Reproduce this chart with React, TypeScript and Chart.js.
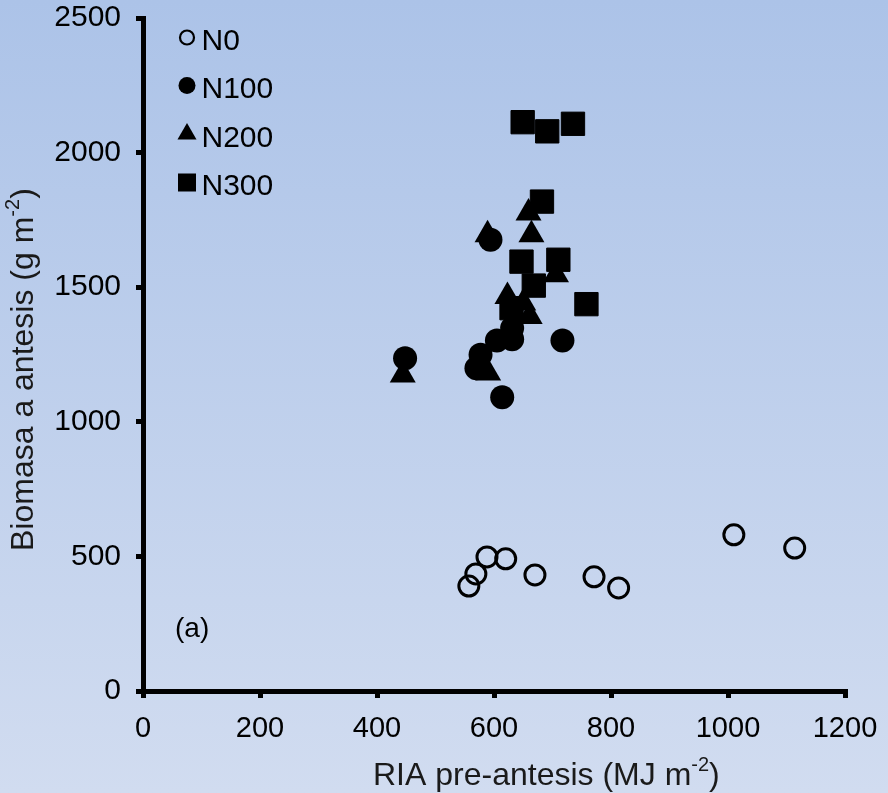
import React, { useEffect, useRef } from "react";
import { Chart, registerables } from "chart.js";

Chart.register(...registerables);

// ---- Data ----
const seriesNames = ["N0", "N100", "N200", "N300"];

const n0X = [557, 569, 588, 620, 670, 771, 813, 1010, 1114];
const n0Y = [390, 435, 498, 491, 431, 424, 383, 580, 531];

const n100X = [594, 448, 717, 614, 605, 631, 631, 577, 570];
const n100Y = [1676, 1236, 1302, 1091, 1302, 1307, 1348, 1249, 1199];

const n200X = [589, 659, 664, 706, 623, 650, 661, 444, 590];
const n200Y = [1695, 1776, 1695, 1546, 1465, 1441, 1391, 1174, 1181];

const n300X = [649, 691, 735, 682, 647, 710, 668, 758, 630];
const n300Y = [2113, 2079, 2107, 1818, 1595, 1602, 1506, 1437, 1422];

const xTickValues = [0, 200, 400, 600, 800, 1000, 1200];
const yTickValues = [0, 500, 1000, 1500, 2000, 2500];

const xTitleMain = "RIA pre-antesis (MJ m";
const yTitleMain = "Biomasa a antesis (g m";
const titleSup = "-2";
const titleEnd = ")";
const panelLabel = "(a)";

const FONT = '"Liberation Sans", Arial, Helvetica, sans-serif';

function toPoints(xs: number[], ys: number[]) {
  return xs.map((x, i) => ({ x, y: ys[i] }));
}

const backgroundPlugin = {
  id: "bgGradient",
  beforeDraw(chart: any) {
    const { ctx, width, height } = chart;
    ctx.save();
    const g = ctx.createLinearGradient(0, 0, 0, height);
    g.addColorStop(0, "rgb(172,195,232)");
    g.addColorStop(1, "rgb(209,220,240)");
    ctx.fillStyle = g;
    ctx.fillRect(0, 0, width, height);
    ctx.restore();
  },
};

function drawSupText(ctx: CanvasRenderingContext2D, main: string, sup: string, end: string, size: number, supSize: number, raise: number) {
  ctx.font = `${size}px ${FONT}`;
  ctx.fillText(main, 0, 0);
  let w = ctx.measureText(main).width;
  ctx.font = `${supSize}px ${FONT}`;
  ctx.fillText(sup, w, -raise);
  w += ctx.measureText(sup).width;
  ctx.font = `${size}px ${FONT}`;
  ctx.fillText(end, w, 0);
}

const annotationsPlugin = {
  id: "customText",
  afterDraw(chart: any) {
    const ctx: CanvasRenderingContext2D = chart.ctx;
    ctx.save();
    ctx.fillStyle = "#1a1a1a";
    ctx.textBaseline = "alphabetic";
    ctx.textAlign = "left";

    // x-axis title
    ctx.save();
    ctx.translate(373, 785);
    drawSupText(ctx, xTitleMain, titleSup, titleEnd, 32, 20, 14);
    ctx.restore();

    // y-axis title
    ctx.save();
    ctx.translate(33, 551);
    ctx.rotate(-Math.PI / 2);
    drawSupText(ctx, yTitleMain, titleSup, titleEnd, 32, 20, 14);
    ctx.restore();

    // panel label
    ctx.fillStyle = "#000";
    ctx.font = `28px ${FONT}`;
    ctx.fillText(panelLabel, 175, 637);

    // legend
    const mx = 187;
    const baselines = [50, 98, 146.5, 195];
    ctx.font = `30px ${FONT}`;
    seriesNames.forEach((name, i) => {
      const by = baselines[i];
      const cy = by - 12.5;
      ctx.fillStyle = "#000";
      ctx.strokeStyle = "#000";
      ctx.beginPath();
      if (i === 0) {
        ctx.lineWidth = 2.2;
        ctx.arc(mx, cy, 7, 0, Math.PI * 2);
        ctx.stroke();
      } else if (i === 1) {
        ctx.arc(mx, cy, 8.5, 0, Math.PI * 2);
        ctx.fill();
      } else if (i === 2) {
        const r = 11;
        ctx.moveTo(mx, cy - r);
        ctx.lineTo(mx + r * Math.sin((2 * Math.PI) / 3), cy + r / 2);
        ctx.lineTo(mx - r * Math.sin((2 * Math.PI) / 3), cy + r / 2);
        ctx.closePath();
        ctx.fill();
      } else {
        ctx.fillRect(mx - 9, cy - 9, 18, 18);
      }
      ctx.fillText(name, 201.5, by);
    });
    ctx.restore();
  },
};

export default function App() {
  const canvasRef = useRef<HTMLCanvasElement | null>(null);

  useEffect(() => {
    const canvas = canvasRef.current;
    if (!canvas) return;
    const xTickFont = { family: FONT, size: 29 };
    const yTickFont = { family: FONT, size: 30 };
    const plainLabel = (v: any) => String(v);
    const chart = new Chart(canvas, {
      type: "scatter",
      data: {
        datasets: [
          {
            label: seriesNames[0],
            data: toPoints(n0X, n0Y),
            pointStyle: "circle",
            pointRadius: 10,
            pointHoverRadius: 10,
            pointBorderWidth: 3,
            borderColor: "#000",
            backgroundColor: "rgba(0,0,0,0)",
          },
          {
            label: seriesNames[1],
            data: toPoints(n100X, n100Y),
            pointStyle: "circle",
            pointRadius: 12,
            pointHoverRadius: 12,
            pointBorderWidth: 0,
            borderColor: "#000",
            backgroundColor: "#000",
          },
          {
            label: seriesNames[2],
            data: toPoints(n200X, n200Y),
            pointStyle: "triangle",
            pointRadius: 15,
            pointHoverRadius: 15,
            pointBorderWidth: 0,
            borderColor: "#000",
            backgroundColor: "#000",
          },
          {
            label: seriesNames[3],
            data: toPoints(n300X, n300Y),
            pointStyle: "rect",
            pointRadius: 16.5,
            pointHoverRadius: 16.5,
            pointBorderWidth: 1,
            borderColor: "#000",
            backgroundColor: "#000",
          },
        ],
      },
      options: {
        animation: false,
        responsive: false,
        events: [],
        layout: { padding: { left: 0, right: 43, top: 18, bottom: 0 } },
        plugins: {
          legend: { display: false },
          tooltip: { enabled: false },
          title: { display: false },
        },
        scales: {
          x: {
            type: "linear",
            min: 0,
            max: 1200,
            afterFit(scale: any) {
              scale.height = 102;
              scale.paddingLeft = 0;
              scale.paddingRight = 0;
              scale.paddingTop = 0;
              scale.paddingBottom = 0;
            },
            afterBuildTicks(scale: any) {
              scale.ticks = xTickValues.map((v) => ({ value: v }));
            },
            ticks: { font: xTickFont, color: "#000", padding: 14, maxRotation: 0, autoSkip: false, callback: plainLabel },
            grid: {
              display: true,
              drawOnChartArea: false,
              drawTicks: true,
              tickLength: 7,
              lineWidth: 5,
              color: "#000",
              tickColor: "#000",
            },
            border: { display: true, color: "#000", width: 5 },
            title: { display: false },
          },
          y: {
            type: "linear",
            min: 0,
            max: 2500,
            afterFit(scale: any) {
              scale.width = 143;
              scale.paddingLeft = 0;
              scale.paddingRight = 0;
              scale.paddingTop = 0;
              scale.paddingBottom = 0;
            },
            afterBuildTicks(scale: any) {
              scale.ticks = yTickValues.map((v) => ({ value: v }));
            },
            ticks: { font: yTickFont, color: "#000", padding: 15, autoSkip: false, callback: plainLabel },
            grid: {
              display: true,
              drawOnChartArea: false,
              drawTicks: true,
              tickLength: 7,
              lineWidth: 5,
              color: "#000",
              tickColor: "#000",
            },
            border: { display: true, color: "#000", width: 5 },
            title: { display: false },
          },
        },
      },
      plugins: [backgroundPlugin, annotationsPlugin],
    } as any);
    return () => {
      chart.destroy();
    };
  }, []);

  return (
    <div style={{ position: "fixed", left: 0, top: 0, width: 888, height: 793 }}>
      <canvas ref={canvasRef} width={888} height={793} style={{ display: "block", width: 888, height: 793 }} />
    </div>
  );
}
